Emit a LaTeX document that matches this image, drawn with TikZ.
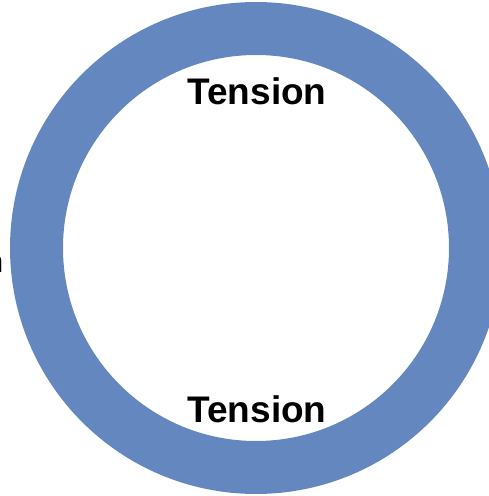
\documentclass[tikz,border=0pt]{standalone}
\usepackage{fontspec}
\setmainfont{Liberation Sans}
\usepackage{xcolor}
\usetikzlibrary{positioning}
\definecolor{ringblue}{RGB}{101,135,192}

\begin{document}
\begin{tikzpicture}[
      x=1pt, y=1pt,
      lbl/.style={font=\fontsize{37}{40}\selectfont\bfseries, inner sep=0pt},
      ring/.style={draw=ringblue, line width=53pt},
    ]
    \useasboundingbox (0,0) rectangle (489,496);
    \clip (0,0) rectangle (489,496);

    % Ring
    \coordinate (c) at (256,248);
    \draw[ring] (c) circle (219.5);

    % Labels
    \node[lbl, anchor=base] (top) at (257,391) {Tension};
    \node[lbl, anchor=base] (bot) at (257,73) {Tension};

    % Cut-off label on the left edge
    \node[font=\fontsize{31}{34}\selectfont, inner sep=0pt, anchor=base east] (side) at (3.5,223) {n};
  \end{tikzpicture}
\end{document}
